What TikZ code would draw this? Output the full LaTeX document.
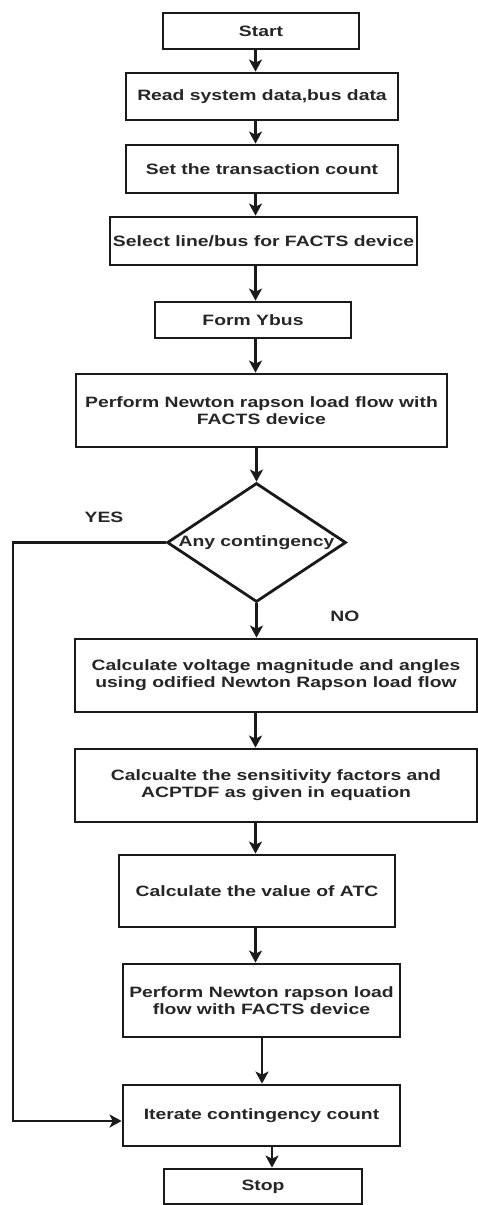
\documentclass[tikz,border=0pt]{standalone}
\usepackage{fontspec}
\newfontfamily\flowfont{Liberation Sans}[FakeStretch=1.29]
\usetikzlibrary{arrows.meta,shapes.geometric}
\definecolor{ink}{HTML}{1A1A1A}
\definecolor{txt}{HTML}{262626}
\begin{document}
\begin{tikzpicture}[x=1pt,y=1pt,
  box/.style={draw=ink, line width=2.8pt, fill=white, inner sep=0pt, align=center,
    text=txt, font=\flowfont\bfseries\fontsize{15}{17}\selectfont},
  dec/.style={draw=ink, line width=2.8pt, fill=white, shape=diamond, shape aspect=1.5,
    inner sep=0pt, minimum width=179pt, minimum height=119pt,
    text=txt, font=\flowfont\bfseries\fontsize{15}{17}\selectfont},
  lbl/.style={text=txt, font=\flowfont\bfseries\fontsize{15}{17}\selectfont, inner sep=0pt},
  arr/.style={draw=ink, line width=2.8pt, -{Stealth[length=12pt,width=13pt,inset=3pt]}}]
\useasboundingbox (0,0) rectangle (478,-1205);
\fill[white] (0,0) rectangle (478,-1205);

\node[box, minimum width=196pt, minimum height=36pt] (start) at (261,-31) {Start};
\node[box, minimum width=272pt, minimum height=47pt] (read) at (262,-96.5) {Read system data,bus data};
\node[box, minimum width=272pt, minimum height=48pt] (set) at (262,-169) {Set the transaction count};
\node[box, minimum width=307pt, minimum height=48pt] (select) at (263.5,-241) {Select line/bus for FACTS device};
\node[box, minimum width=196pt, minimum height=36pt] (form) at (253,-320) {Form Ybus};
\node[box, minimum width=371pt, minimum height=73pt] (nr) at (261.5,-410.5) {Perform Newton rapson load flow with\\FACTS device};
\node[dec] (cont) at (256.5,-542.5) {Any contingency};
\node[box, minimum width=402pt, minimum height=73pt] (volt) at (276,-675.5) {Calculate voltage magnitude and angles\\using odified Newton Rapson load flow};
\node[box, minimum width=402pt, minimum height=73pt] (sens) at (276,-785.5) {Calcualte the sensitivity factors and\\ACPTDF as given in equation};
\node[box, minimum width=276pt, minimum height=72pt] (atc) at (257,-891) {Calculate the value of ATC};
\node[box, minimum width=277pt, minimum height=73pt] (nr2) at (261.5,-1000.5) {Perform Newton rapson load\\flow with FACTS device};
\node[box, minimum width=277pt, minimum height=61pt] (iter) at (261.5,-1115.5) {Iterate contingency count};
\node[box, minimum width=198pt, minimum height=35pt] (stop) at (263,-1186.5) {Stop};

\node[lbl] (yes) at (104,-517) {YES};
\node[lbl] (no) at (345,-616) {NO};

\coordinate (sp) at (255.5,0);
\coordinate (sp2) at (262,0);
\coordinate (sp3) at (272,0);
\coordinate (lc) at (13,-1121);

\draw[arr] (start.south -| sp) -- (read.north -| sp);
\draw[arr] (read.south -| sp) -- (set.north -| sp);
\draw[arr] (set.south -| sp) -- (select.north -| sp);
\draw[arr] (select.south -| sp) -- (form.north -| sp);
\draw[arr] (form.south -| sp) -- (nr.north -| sp);
\draw[arr] (nr.south -| cont.north) -- (cont.north);
\draw[arr] (cont.south) -- (volt.north -| cont.south);
\draw[arr] (volt.south -| sp) -- (sens.north -| sp);
\draw[arr] (sens.south -| sp) -- (atc.north -| sp);
\draw[arr] (atc.south -| sp) -- (nr2.north -| sp);
\draw[arr] (nr2.south -| sp2) -- (iter.north -| sp2);
\draw[arr] (iter.south -| sp3) -- (stop.north -| sp3);
\draw[arr] (cont.west) -| (lc) -- (lc -| iter.west);
\end{tikzpicture}
\end{document}
